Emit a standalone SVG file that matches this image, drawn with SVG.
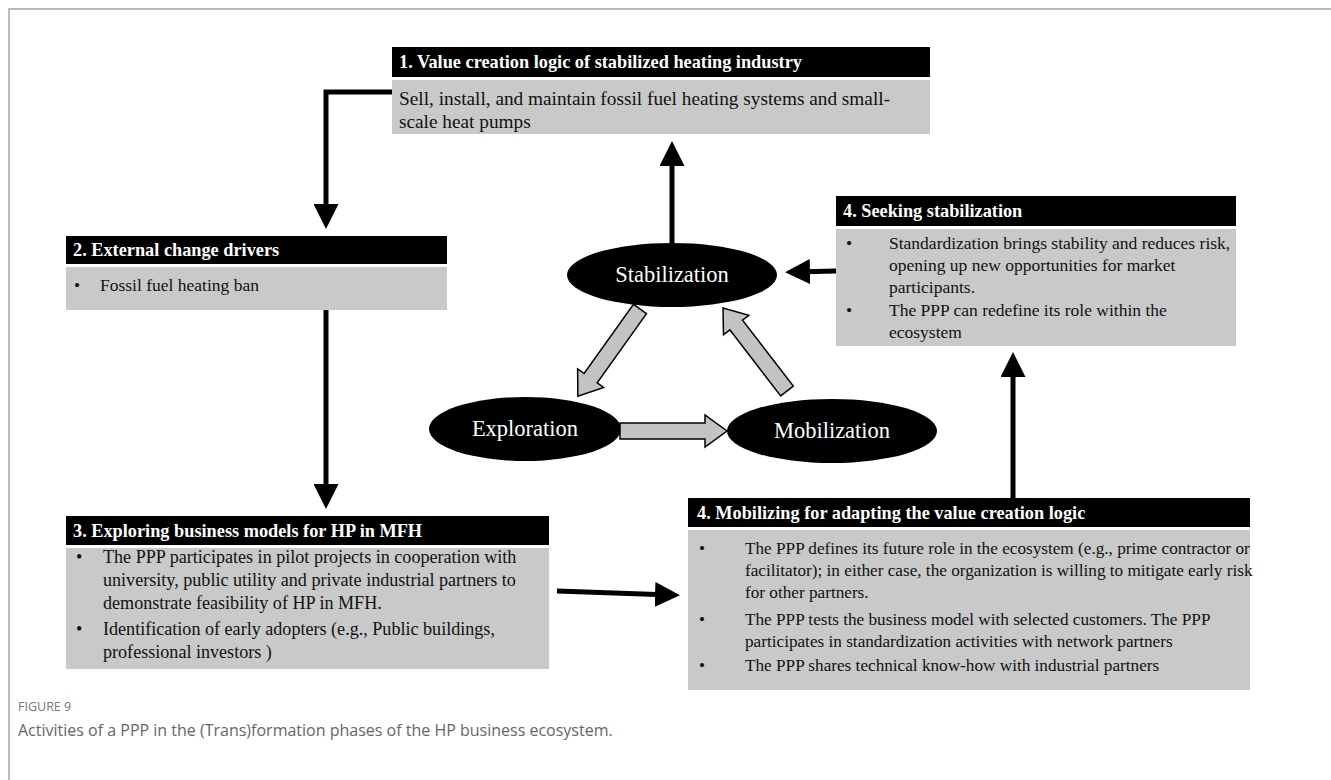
<svg xmlns="http://www.w3.org/2000/svg" width="1331" height="780" viewBox="0 0 1331 780">
<style>
.hdr{fill:#000}
.body{fill:#c9c9c9}
.ht{font-family:"Liberation Serif","Times New Roman",serif;font-weight:bold;fill:#fff;font-size:18.3px}
.bt{font-family:"Liberation Serif","Times New Roman",serif;fill:#111;font-size:17.5px}
.et{font-family:"Liberation Serif","Times New Roman",serif;fill:#fff;font-size:22.5px}
.conn{stroke:#000;stroke-width:5;fill:none}
.blk{fill:#c3c3c3;stroke:#000;stroke-width:1.5}
.cap1{font-family:"Open Sans",sans-serif;fill:#777;font-size:12.5px}
.cap2{font-family:"Open Sans",sans-serif;fill:#666;font-size:16px}
</style>
<defs>
<marker id="ah" markerWidth="5" markerHeight="5" refX="3.2" refY="2.5" orient="auto" markerUnits="strokeWidth" viewBox="0 0 5 5">
<path d="M0,0 L5,2.5 L0,5 z" fill="#000"/>
</marker>
<path id="blockarrow" d="M0,-8 L85,-8 L85,-16 L107,0 L85,16 L85,8 L0,8 z"/>
</defs>
<rect width="1331" height="780" fill="#fff"/>
<path d="M9,780 L9,9 L1331,9" stroke="#bbb" stroke-width="2" fill="none"/>

<g id="box1">
<rect class="hdr" x="392" y="47" width="538" height="30"/>
<rect class="body" x="392" y="80" width="538" height="54"/>
<text class="ht" x="399" y="68">1. Value creation logic of stabilized heating industry</text>
<text class="bt" x="399" y="105" style="font-size:19.3px">Sell, install, and maintain fossil fuel heating systems and small-</text>
<text class="bt" x="399" y="128" style="font-size:19.3px">scale heat pumps</text>
</g>

<g id="box2">
<rect class="hdr" x="66" y="236" width="381" height="28"/>
<rect class="body" x="66" y="267" width="381" height="43"/>
<text class="ht" x="73" y="256">2. External change drivers</text>
<text class="bt" x="74" y="291">•</text>
<text class="bt" x="100" y="291">Fossil fuel heating ban</text>
</g>

<g id="box3">
<rect class="hdr" x="66" y="516" width="483" height="29"/>
<rect class="body" x="66" y="548" width="483" height="121"/>
<text class="ht" x="73" y="537">3. Exploring business models for HP in MFH</text>
<g style="font-size:18.1px">
<text class="bt" x="76" y="563" style="font-size:18.1px">•</text>
<text class="bt" x="103" y="563" style="font-size:18.1px">The PPP participates in pilot projects in cooperation with</text>
<text class="bt" x="103" y="586" style="font-size:18.1px">university, public utility and private industrial partners to</text>
<text class="bt" x="103" y="609" style="font-size:18.1px">demonstrate feasibility of HP in MFH.</text>
<text class="bt" x="76" y="635" style="font-size:18.1px">•</text>
<text class="bt" x="103" y="635" style="font-size:18.1px">Identification of early adopters (e.g., Public buildings,</text>
<text class="bt" x="103" y="658" style="font-size:18.1px">professional investors )</text>
</g>
</g>

<g id="box4m">
<rect class="hdr" x="688" y="498" width="562" height="29"/>
<rect class="body" x="688" y="530" width="562" height="160"/>
<text class="ht" x="697" y="519">4. Mobilizing for adapting the value creation logic</text>
<text class="bt" x="699" y="554" style="font-size:17.2px">•</text>
<text class="bt" x="745" y="554" style="font-size:17.2px">The PPP defines its future role in the ecosystem (e.g., prime contractor or</text>
<text class="bt" x="745" y="576" style="font-size:17.2px">facilitator); in either case, the organization is willing to mitigate early risk</text>
<text class="bt" x="745" y="598" style="font-size:17.2px">for other partners.</text>
<text class="bt" x="699" y="625" style="font-size:17.2px">•</text>
<text class="bt" x="745" y="625" style="font-size:17.2px">The PPP tests the business model with selected customers. The PPP</text>
<text class="bt" x="745" y="647" style="font-size:17.2px">participates in standardization activities with network partners</text>
<text class="bt" x="699" y="671" style="font-size:17.2px">•</text>
<text class="bt" x="745" y="671" style="font-size:17.2px">The PPP shares technical know-how with industrial partners</text>
</g>

<g id="box4s">
<rect class="hdr" x="836" y="196" width="400" height="30"/>
<rect class="body" x="836" y="229" width="400" height="117"/>
<text class="ht" x="843" y="217">4. Seeking stabilization</text>
<text class="bt" x="846" y="249">•</text>
<text class="bt" x="889" y="249">Standardization brings stability and reduces risk,</text>
<text class="bt" x="889" y="271">opening up new opportunities for market</text>
<text class="bt" x="889" y="293">participants.</text>
<text class="bt" x="846" y="316">•</text>
<text class="bt" x="889" y="316">The PPP can redefine its role within the</text>
<text class="bt" x="889" y="338">ecosystem</text>
</g>

<g id="stabilization">
<ellipse cx="672" cy="275" rx="105" ry="32" fill="#000"/>
<text class="et" x="672" y="282" text-anchor="middle" font-family="Liberation Serif, serif">Stabilization</text>
</g>
<g id="exploration">
<ellipse cx="525" cy="429" rx="96" ry="32" fill="#000"/>
<text class="et" x="525" y="436" text-anchor="middle" font-family="Liberation Serif, serif">Exploration</text>
</g>
<g id="mobilization">
<ellipse cx="832" cy="431" rx="105" ry="32" fill="#000"/>
<text class="et" x="832" y="438" text-anchor="middle" font-family="Liberation Serif, serif">Mobilization</text>
</g>

<g id="connectors">
<path class="conn" d="M392,92 L326,92 L326,220" marker-end="url(#ah)"/>
<path class="conn" d="M326,310 L326,500" marker-end="url(#ah)"/>
<path class="conn" d="M557,591 L671,595" marker-end="url(#ah)"/>
<path class="conn" d="M1013,498 L1013,361" marker-end="url(#ah)"/>
<path class="conn" d="M836,271 L794,272" marker-end="url(#ah)"/>
<path class="conn" d="M672,243 L672,150" marker-end="url(#ah)"/>
<use href="#blockarrow" class="blk" transform="translate(640,309) rotate(125.5)"/>
<use href="#blockarrow" class="blk" transform="translate(620,431)"/>
<use href="#blockarrow" class="blk" transform="translate(787,391) rotate(-127.6) scale(0.98,1)"/>
</g>

<text class="cap1" x="18" y="711">FIGURE 9</text>
<text class="cap2" x="18" y="736">Activities of a PPP in the (Trans)formation phases of the HP business ecosystem.</text>
</svg>
